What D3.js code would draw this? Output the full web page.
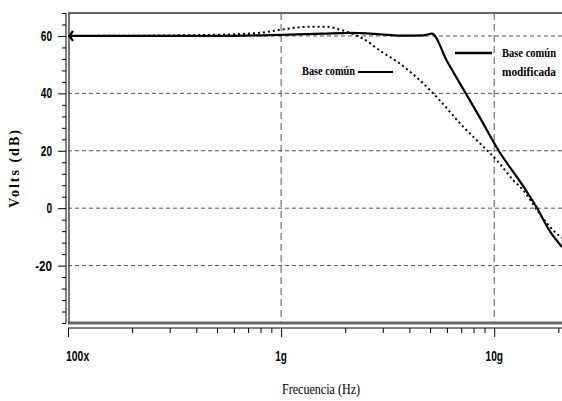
<!DOCTYPE html>
<html>
<head>
<meta charset="utf-8">
<script src="https://cdn.jsdelivr.net/npm/d3@7"></script>
<style>
  body { margin: 0; background: #fff; }
  svg { display: block; }
</style>
</head>
<body>
<div id="chart"></div>
<script>
// Datos
var xTicks = [1e8, 1e9, 1e10];
var xTickLabels = ["100x", "1g", "10g"];
var yTicks = [60, 40, 20, 0, -20];

// Base comun (punteada)
var frecBase = [1e8, 3.2e8, 6e8, 8.6e8, 1.0e9, 1.37e9, 1.64e9, 1.89e9, 2.11e9, 2.43e9, 2.92e9, 3.62e9, 4.5e9, 5.58e9, 6.92e9, 8.3e9, 1.03e10, 1.23e10, 1.37e10, 1.59e10, 1.83e10, 2.08e10];
var dbBase = [60, 60.2, 60.6, 61.4, 62.2, 63.2, 63.2, 62.2, 61, 59, 54.8, 50.3, 44.4, 37.4, 29.5, 23.6, 16.6, 9.7, 6.2, -0.7, -6.6, -10.4];

// Base comun modificada (continua)
var frecMod = [1e8, 5e8, 1e9, 1.57e9, 2.1e9, 2.9e9, 3.6e9, 4.65e9, 5.1e9, 6e9, 7.3e9, 8.5e9, 1.05e10, 1.37e10, 1.59e10, 1.83e10, 2.08e10];
var dbMod = [60, 60, 60.4, 60.8, 61.1, 60.6, 60.1, 60.2, 60.8, 51.3, 40.4, 32, 20, 7.6, 0, -8.2, -13.5];

var width = 562, height = 401;
var mLeft = 68, mRight = 562, mTop = 13, mBottom = 323;

var svg = d3.select("#chart").append("svg")
    .attr("width", width)
    .attr("height", height);

// Escalas
var x = d3.scaleLog()
    .domain([1e8, 2.08e10])
    .range([mLeft, mRight]);

var y = d3.scaleLinear()
    .domain([-40, 68])
    .range([mBottom, mTop]);

svg.append("clipPath").attr("id", "area")
  .append("rect")
    .attr("x", mLeft).attr("y", mTop)
    .attr("width", mRight - mLeft).attr("height", mBottom - mTop);

var narrow = "'Liberation Sans', 'DejaVu Sans', sans-serif";
var serif = "'Liberation Serif', 'DejaVu Serif', serif";

// Rejilla
svg.selectAll(".hgrid")
    .data(yTicks)
    .enter()
    .append("line")
    .attr("x1", mLeft).attr("x2", mRight)
    .attr("y1", function(d) { return y(d); })
    .attr("y2", function(d) { return y(d); })
    .attr("stroke", "#555")
    .attr("stroke-dasharray", "4,3");

svg.selectAll(".vgrid")
    .data(xTicks.slice(1))
    .enter()
    .append("line")
    .attr("x1", function(d) { return x(d); })
    .attr("x2", function(d) { return x(d); })
    .attr("y1", mTop).attr("y2", mBottom)
    .attr("stroke", "#555")
    .attr("stroke-dasharray", "7,4");

// Marco
svg.append("line").attr("x1", mLeft).attr("x2", mRight).attr("y1", mTop).attr("y2", mTop)
    .attr("stroke", "#666").attr("stroke-width", 2);
svg.append("line").attr("x1", mLeft).attr("x2", mRight).attr("y1", mBottom).attr("y2", mBottom)
    .attr("stroke", "#666").attr("stroke-width", 3);
svg.append("line").attr("x1", mLeft + 1).attr("x2", mLeft + 1).attr("y1", mTop).attr("y2", mBottom)
    .attr("stroke", "#444").attr("stroke-width", 1.5);

// Eje Y
var yAxis = d3.axisLeft(y)
    .tickValues(d3.range(-40, 69, 4))
    .tickSize(4)
    .tickFormat("");

var gy = svg.append("g")
    .attr("transform", "translate(" + (mLeft - 2) + ",0)")
    .call(yAxis);
gy.select(".domain").remove();
gy.append("line").attr("x1", 0).attr("x2", 0).attr("y1", mTop).attr("y2", mBottom)
    .attr("stroke", "#000");
gy.selectAll(".tick line").filter(function(d) { return yTicks.indexOf(d) >= 0; })
    .attr("x2", -8);
gy.selectAll(".ylab")
    .data(yTicks)
    .enter()
    .append("text")
    .attr("x", -14)
    .attr("y", function(d) { return y(d) + 5; })
    .attr("text-anchor", "end")
    .attr("font-family", narrow)
    .attr("font-weight", "bold")
    .attr("font-size", 14)
    .attr("textLength", function(d) { return String(d).length * 5.6; })
    .attr("lengthAdjust", "spacingAndGlyphs")
    .attr("fill", "#000")
    .text(function(d) { return d; });

// Eje X
var minorX = [];
[1e8, 1e9, 1e10].forEach(function(dec) {
    for (var i = 1; i < 10; i++) {
        if (dec * i <= 2.08e10) minorX.push(dec * i);
    }
});

var xAxis = d3.axisBottom(x)
    .tickValues(minorX)
    .tickSize(5)
    .tickFormat("");

var gx = svg.append("g")
    .attr("transform", "translate(0,328)")
    .call(xAxis);
gx.select(".domain").remove();
gx.append("line").attr("x1", mLeft).attr("x2", mRight).attr("y1", 0).attr("y2", 0)
    .attr("stroke", "#000");
gx.selectAll(".tick line").filter(function(d) { return xTicks.indexOf(d) >= 0; })
    .attr("y2", 9);

svg.selectAll(".xlab")
    .data(xTicks)
    .enter()
    .append("text")
    .attr("x", function(d, i) { return i === 0 ? x(d) - 2 : x(d); })
    .attr("y", 361)
    .attr("text-anchor", function(d, i) { return i === 0 ? "start" : "middle"; })
    .attr("font-family", narrow)
    .attr("font-weight", "bold")
    .attr("font-size", 14)
    .attr("textLength", function(d, i) { return xTickLabels[i].length * 5.8; })
    .attr("lengthAdjust", "spacingAndGlyphs")
    .text(function(d, i) { return xTickLabels[i]; });

// Curvas
var linea = d3.line()
    .x(function(d) { return x(d[0]); })
    .y(function(d) { return y(d[1]); })
    .curve(d3.curveMonotoneX);

var plot = svg.append("g").attr("clip-path", "url(#area)");

plot.append("path")
    .datum(d3.zip(frecBase, dbBase))
    .attr("d", linea)
    .attr("fill", "none")
    .attr("stroke", "#000")
    .attr("stroke-width", 2)
    .attr("stroke-dasharray", "2,3");

plot.append("path")
    .datum(d3.zip(frecMod, dbMod))
    .attr("d", linea)
    .attr("fill", "none")
    .attr("stroke", "#000")
    .attr("stroke-width", 2.2)
    .attr("stroke-linejoin", "round");

// Flecha del cursor a la izquierda
var y60 = y(60);
svg.append("path")
    .attr("d", "M" + (mLeft + 5) + "," + (y60 - 5) + "L" + (mLeft + 1.5) + "," + y60 + "L" + (mLeft + 5) + "," + (y60 + 5))
    .attr("fill", "none")
    .attr("stroke", "#000")
    .attr("stroke-width", 2.2);

// Leyendas
svg.append("text")
    .attr("x", 302).attr("y", 75)
    .attr("font-family", serif).attr("font-weight", "bold").attr("font-size", 12)
    .attr("textLength", 53).attr("lengthAdjust", "spacingAndGlyphs")
    .text("Base común");
svg.append("line").attr("x1", 358).attr("x2", 393).attr("y1", 72).attr("y2", 72)
    .attr("stroke", "#000").attr("stroke-width", 2);

svg.append("line").attr("x1", 455).attr("x2", 492).attr("y1", 53).attr("y2", 53)
    .attr("stroke", "#000").attr("stroke-width", 2.5);
svg.append("text")
    .attr("x", 502).attr("y", 57)
    .attr("font-family", serif).attr("font-weight", "bold").attr("font-size", 11.5)
    .attr("textLength", 54).attr("lengthAdjust", "spacingAndGlyphs")
    .text("Base común");
svg.append("text")
    .attr("x", 502).attr("y", 76)
    .attr("font-family", serif).attr("font-weight", "bold").attr("font-size", 11.5)
    .attr("textLength", 54).attr("lengthAdjust", "spacingAndGlyphs")
    .text("modificada");

// Titulos de ejes
svg.append("text")
    .attr("transform", "translate(19,168) rotate(-90)")
    .attr("text-anchor", "middle")
    .attr("font-family", serif).attr("font-weight", "bold").attr("font-size", 14)
    .attr("letter-spacing", 2)
    .text("Volts (dB)");

svg.append("text")
    .attr("x", 282).attr("y", 394)
    .attr("font-family", serif).attr("font-size", 15)
    .attr("textLength", 78).attr("lengthAdjust", "spacingAndGlyphs")
    .text("Frecuencia (Hz)");
</script>
</body>
</html>
